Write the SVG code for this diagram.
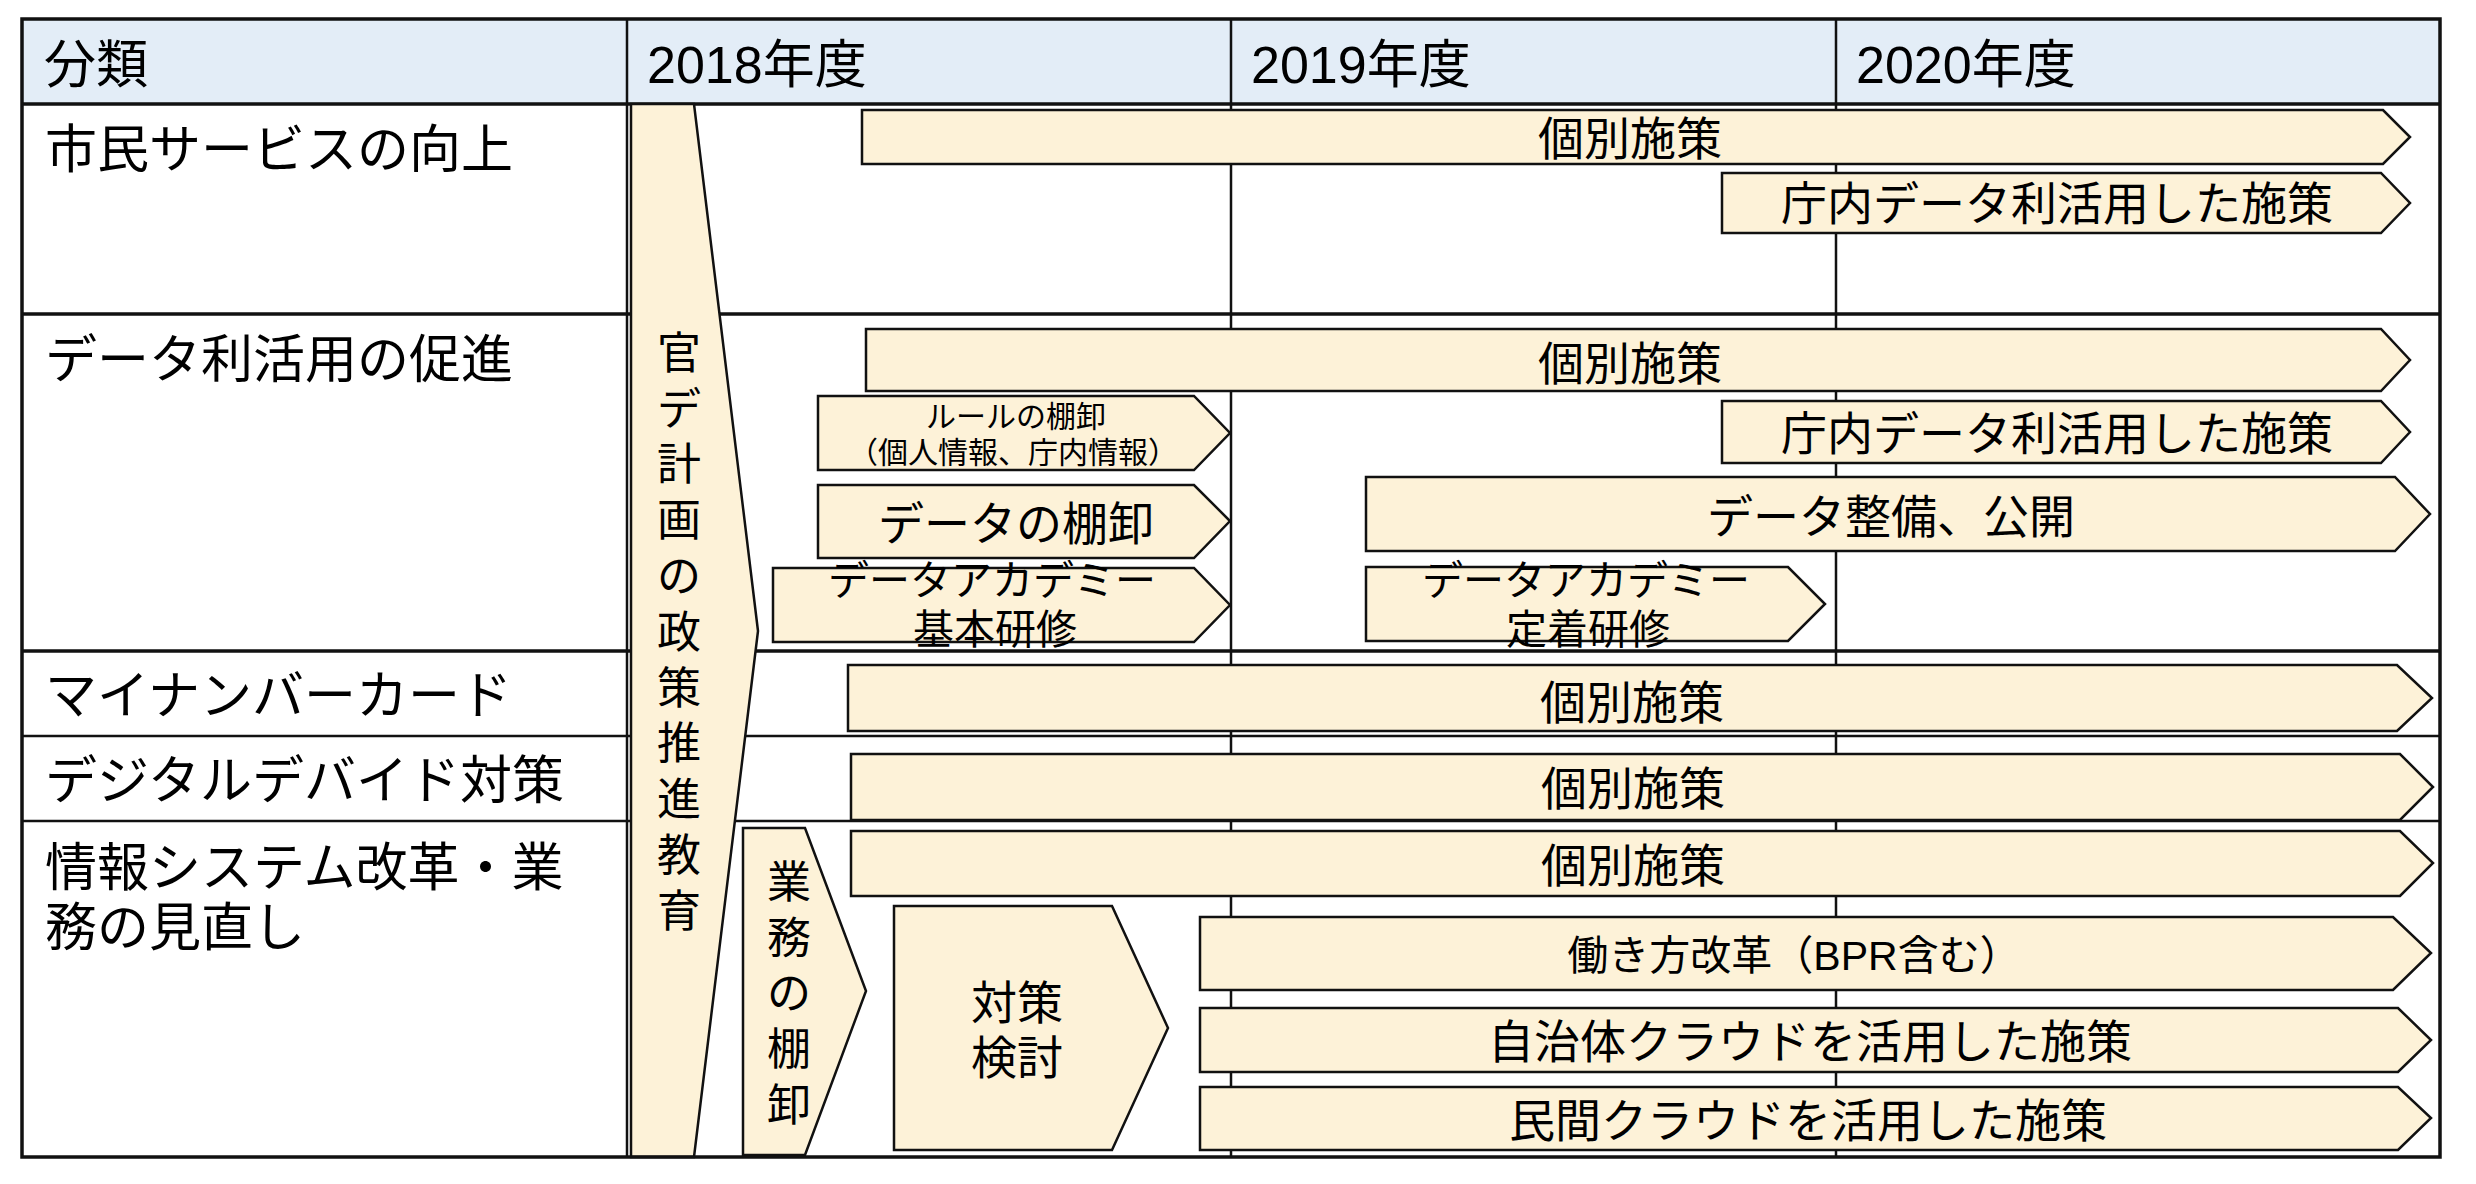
<svg xmlns="http://www.w3.org/2000/svg" width="2476" height="1184" viewBox="0 0 2476 1184">
<style>
.t{font-family:"Liberation Sans","Noto Sans CJK JP",sans-serif;fill:#000}
.h{font-size:52px}
.m{font-size:46px;text-anchor:middle}
.v{font-size:44px;text-anchor:middle}
.ar{fill:#fdf2d8;stroke:#111;stroke-width:2.5;stroke-linejoin:miter}
.gl{stroke:#111;stroke-width:2.5;fill:none}
.gt{stroke:#111;stroke-width:3.5;fill:none}
</style>
<rect x="0" y="0" width="2476" height="1184" fill="#fff"/>
<g id="grid">
<rect x="22" y="19" width="2418" height="85" fill="#e3edf7"/>
<line class="gl" x1="627" y1="19" x2="627" y2="1157"/>
<line class="gl" x1="1231" y1="19" x2="1231" y2="1157"/>
<line class="gl" x1="1836" y1="19" x2="1836" y2="1157"/>
<line class="gt" x1="22" y1="104" x2="2440" y2="104"/>
<line class="gt" x1="22" y1="314" x2="2440" y2="314"/>
<line class="gt" x1="22" y1="651" x2="2440" y2="651"/>
<line class="gl" x1="22" y1="736" x2="2440" y2="736"/>
<line class="gl" x1="22" y1="821" x2="2440" y2="821"/>
</g>
<g id="header">
<text class="t h" x="44" y="83">分類</text>
<text class="t h" x="647" y="83">2018年度</text>
<text class="t h" x="1251" y="83">2019年度</text>
<text class="t h" x="1856" y="83">2020年度</text>
</g>
<g id="categories">
<text class="t h" x="45" y="168">市民サービスの向上</text>
<text class="t h" x="45" y="378">データ利活用の促進</text>
<text class="t h" x="45" y="714">マイナンバーカード</text>
<text class="t h" x="45" y="799">デジタルデバイド対策</text>
<text class="t h" x="45" y="886">情報システム改革・業</text>
<text class="t h" x="45" y="946">務の見直し</text>
</g>
<g id="policy-education">
<polygon class="ar" points="631,104 694,104 758,631 694,1157 631,1157"/>
<text class="t v" x="679"><tspan x="679" y="369">官</tspan><tspan x="679" y="425">デ</tspan><tspan x="679" y="480">計</tspan><tspan x="679" y="536">画</tspan><tspan x="679" y="592">の</tspan><tspan x="679" y="648">政</tspan><tspan x="679" y="704">策</tspan><tspan x="679" y="759">推</tspan><tspan x="679" y="815">進</tspan><tspan x="679" y="871">教</tspan><tspan x="679" y="927">育</tspan></text>
</g>
<g id="r1-kobetsu">
<polygon class="ar" points="862,110 2383,110 2410,137 2383,164 862,164"/>
<text class="t m" x="1630" y="155">個別施策</text>
</g>
<g id="r1-chonai">
<polygon class="ar" points="1722,173 2381,173 2410,203 2381,233 1722,233"/>
<text class="t m" x="2057" y="220">庁内データ利活用した施策</text>
</g>
<g id="r2-kobetsu">
<polygon class="ar" points="866,329 2381,329 2410,360 2381,391 866,391"/>
<text class="t m" x="1630" y="380">個別施策</text>
</g>
<g id="r2-chonai">
<polygon class="ar" points="1722,401 2381,401 2410,432 2381,463 1722,463"/>
<text class="t m" x="2057" y="450">庁内データ利活用した施策</text>
</g>
<g id="r2-rule">
<polygon class="ar" points="818,396 1194,396 1230,433 1194,470 818,470"/>
<text class="t" style="font-size:30px;text-anchor:middle" x="1016" y="427">ルールの棚卸</text>
<text class="t" style="font-size:30px;text-anchor:middle" x="1013" y="463">（個人情報、庁内情報）</text>
</g>
<g id="r2-data-tanaoroshi">
<polygon class="ar" points="818,485 1194,485 1230,521 1194,558 818,558"/>
<text class="t m" x="1016" y="540">データの棚卸</text>
</g>
<g id="r2-academy-basic">
<polygon class="ar" points="773,568 1194,568 1230,605 1194,642 773,642"/>
<text class="t" style="font-size:41px;text-anchor:middle" x="992" y="595">データアカデミー</text>
<text class="t" style="font-size:41px;text-anchor:middle" x="995" y="644">基本研修</text>
</g>
<g id="r2-data-open">
<polygon class="ar" points="1366,477 2395,477 2430,514 2395,551 1366,551"/>
<text class="t m" x="1891" y="533">データ整備、公開</text>
</g>
<g id="r2-academy-fix">
<polygon class="ar" points="1366,567 1788,567 1825,604 1788,641 1366,641"/>
<text class="t" style="font-size:41px;text-anchor:middle" x="1586" y="595">データアカデミー</text>
<text class="t" style="font-size:41px;text-anchor:middle" x="1588" y="644">定着研修</text>
</g>
<g id="r3-kobetsu">
<polygon class="ar" points="848,665 2397,665 2432,698 2397,731 848,731"/>
<text class="t m" x="1632" y="719">個別施策</text>
</g>
<g id="r4-kobetsu">
<polygon class="ar" points="851,754 2400,754 2433,787 2400,820 851,820"/>
<text class="t m" x="1633" y="805">個別施策</text>
</g>
<g id="r5-kobetsu">
<polygon class="ar" points="851,831 2400,831 2433,863 2400,896 851,896"/>
<text class="t m" x="1633" y="882">個別施策</text>
</g>
<g id="r5-gyomu-tanaoroshi">
<polygon class="ar" points="743,828 805,828 866,991 805,1155 743,1155"/>
<text class="t v" x="789"><tspan x="789" y="898">業</tspan><tspan x="789" y="954">務</tspan><tspan x="789" y="1009">の</tspan><tspan x="789" y="1065">棚</tspan><tspan x="789" y="1121">卸</tspan></text>
</g>
<g id="r5-taisaku">
<polygon class="ar" points="894,906 1112,906 1168,1028 1112,1150 894,1150"/>
<text class="t m" x="1017" y="1019">対策</text>
<text class="t m" x="1017" y="1074">検討</text>
</g>
<g id="r5-hatarakikata">
<polygon class="ar" points="1200,917 2393,917 2431,953 2393,990 1200,990"/>
<text class="t" style="font-size:41px;text-anchor:middle" x="1794" y="970">働き方改革（BPR含む）</text>
</g>
<g id="r5-jichitai">
<polygon class="ar" points="1200,1008 2398,1008 2431,1040 2398,1072 1200,1072"/>
<text class="t m" x="1810" y="1058">自治体クラウドを活用した施策</text>
</g>
<g id="r5-minkan">
<polygon class="ar" points="1200,1087 2398,1087 2431,1118 2398,1150 1200,1150"/>
<text class="t m" x="1808" y="1137">民間クラウドを活用した施策</text>
</g>
<g id="connectors"></g>
<g id="frame">
<rect class="gt" x="22" y="19" width="2418" height="1138"/>
</g>
</svg>
